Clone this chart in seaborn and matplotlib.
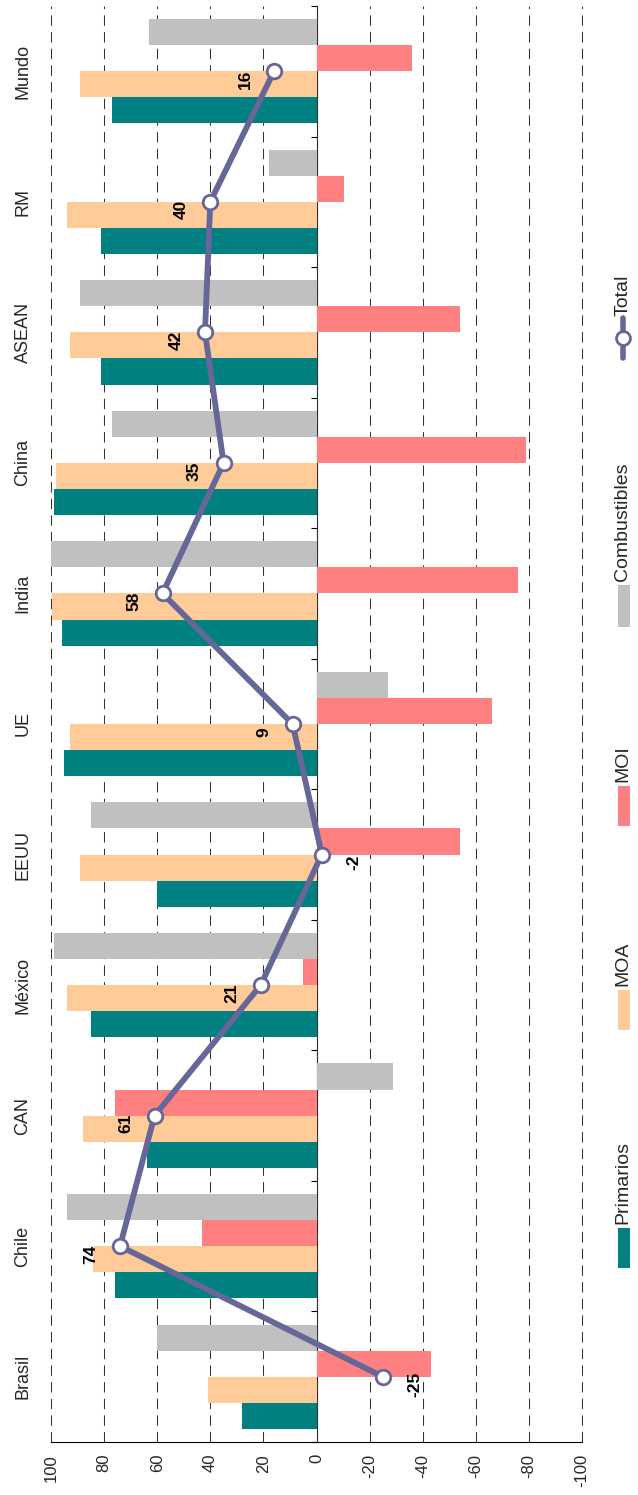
import numpy as np
import pandas as pd
import matplotlib
matplotlib.use("Agg")
import matplotlib.pyplot as plt
import seaborn as sns
from matplotlib.patches import Rectangle
from matplotlib.lines import Line2D

# ---------------- data ----------------
categories = ["Brasil", "Chile", "CAN", "México", "EEUU", "UE",
              "India", "China", "ASEAN", "RM", "Mundo"]
primarios = [28, 76, 64, 85, 60, 95, 96, 99, 81, 81, 77]
moa = [41, 84, 88, 94, 89, 93, 99.5, 98, 93, 94, 89]
moi = [-43, 43, 76, 5, -54, -66, -76, -79, -54, -10.5, -36]
combustibles = [60, 94, -29, 99, 85, -27, 100, 77, 89, 18, 63]
total = [-25, 74, 61, 21, -2, 9, 58, 35, 42, 40, 16]
series_names = ["Primarios", "MOA", "MOI", "Combustibles"]
series_colors = ["#008080", "#FFCC99", "#FF8080", "#C0C0C0"]
line_name = "Total"
line_color = "#666699"
value_ticks = list(range(-100, 101, 20))

df = pd.DataFrame({
    "cat": np.repeat(categories, 4),
    "serie": series_names * len(categories),
    "valor": np.ravel(np.column_stack([primarios, moa, moi, combustibles])),
})

# ---------------- figure ----------------
sns.set_style("white")
plt.rcParams["font.family"] = ["Liberation Sans", "DejaVu Sans"]

W, H = 638, 1495
fig = plt.figure(figsize=(W / 100, H / 100), dpi=100)
ax = fig.add_axes([51 / W, 1 - 1442 / H, (582 - 51) / W, (1442 - 6) / H])

sns.barplot(data=df, x="valor", y="cat", hue="serie", order=categories,
            hue_order=series_names, palette=series_colors, saturation=1,
            orient="h", width=0.8, linewidth=0, legend=False, ax=ax, zorder=2)

n = len(categories)
pos = np.arange(n)
sns.lineplot(x=total, y=pos, sort=False, orient="y", color=line_color,
             linewidth=4.2, marker="o", markersize=10.5, markerfacecolor="white",
             markeredgecolor=line_color, markeredgewidth=2, ax=ax, zorder=6,
             legend=False)

ax.set_xlim(100, -100)
ax.set_ylim(-0.5, n - 0.5)

# data labels
for v, p in zip(total, pos):
    dx = -29 if v > 0 else 32
    ax.annotate(f"{v}", (v, p), xytext=(dx, -8), textcoords="offset pixels",
                rotation=90, ha="center", va="center", fontsize=12.5,
                fontweight="bold", color="black", zorder=7)

# axes styling
for s in ["left", "top", "right"]:
    ax.spines[s].set_visible(False)
ax.spines["bottom"].set_color("black")
ax.spines["bottom"].set_linewidth(0.8)

ax.set_xticks(value_ticks)
ax.set_xticklabels([str(t) for t in value_ticks], rotation=90, fontsize=12)
ax.tick_params(axis="x", direction="out", length=3.6, width=0.8,
               color="black", pad=5)
ax.set_yticks(pos)
ax.set_yticklabels(categories, rotation=90, va="center", fontsize=13)
ax.tick_params(axis="y", length=0, pad=14)
ax.set_xlabel("")
ax.set_ylabel("")

ax.set_axisbelow(True)
ax.xaxis.grid(True, linestyle=(0, (10, 6)), color="#333333", linewidth=0.75)
ax.yaxis.grid(False)
for gl in ax.get_xgridlines():
    gl.set_clip_on(False)

# zero line with category separator ticks
sec = ax.secondary_yaxis(0.5)
sec.set_yticks(np.arange(n + 1) - 0.5)
sec.set_yticklabels([])
sec.tick_params(direction="in", length=4, width=0.8, color="black")
sec.spines["left"].set_color("black")
sec.spines["left"].set_linewidth(0.8)

# ---------------- manual rotated legend ----------------
def fy(py):
    return 1 - py / H

def fx(px):
    return px / W

patch_spans = [(1228, 1268), (990, 1030), (786, 826), (585, 627)]
for name, col, (y0, y1) in zip(series_names, series_colors, patch_spans):
    fig.add_artist(Rectangle((fx(618), fy(y1)), fx(12), (y1 - y0) / H,
                             transform=fig.transFigure, facecolor=col,
                             edgecolor="none"))
    fig.text(fx(623), fy(y0 - 4), name, rotation=90, ha="center", va="bottom",
             fontsize=14, family=["Liberation Sans Narrow", "Liberation Sans"])

ty0, ty1 = 318, 358
fig.add_artist(Line2D([fx(623), fx(623)], [fy(ty0), fy(ty1)],
                      transform=fig.transFigure, color=line_color,
                      linewidth=4, solid_capstyle="round"))
fig.add_artist(Line2D([fx(623)], [fy((ty0 + ty1) / 2)],
                      transform=fig.transFigure, color=line_color,
                      marker="o", markersize=10, markerfacecolor="white",
                      markeredgecolor=line_color, markeredgewidth=2))
fig.text(fx(623), fy(ty0 - 2), line_name, rotation=90, ha="center",
         va="bottom", fontsize=14,
         family=["Liberation Sans Narrow", "Liberation Sans"])

fig.savefig("out.png", dpi=100)
